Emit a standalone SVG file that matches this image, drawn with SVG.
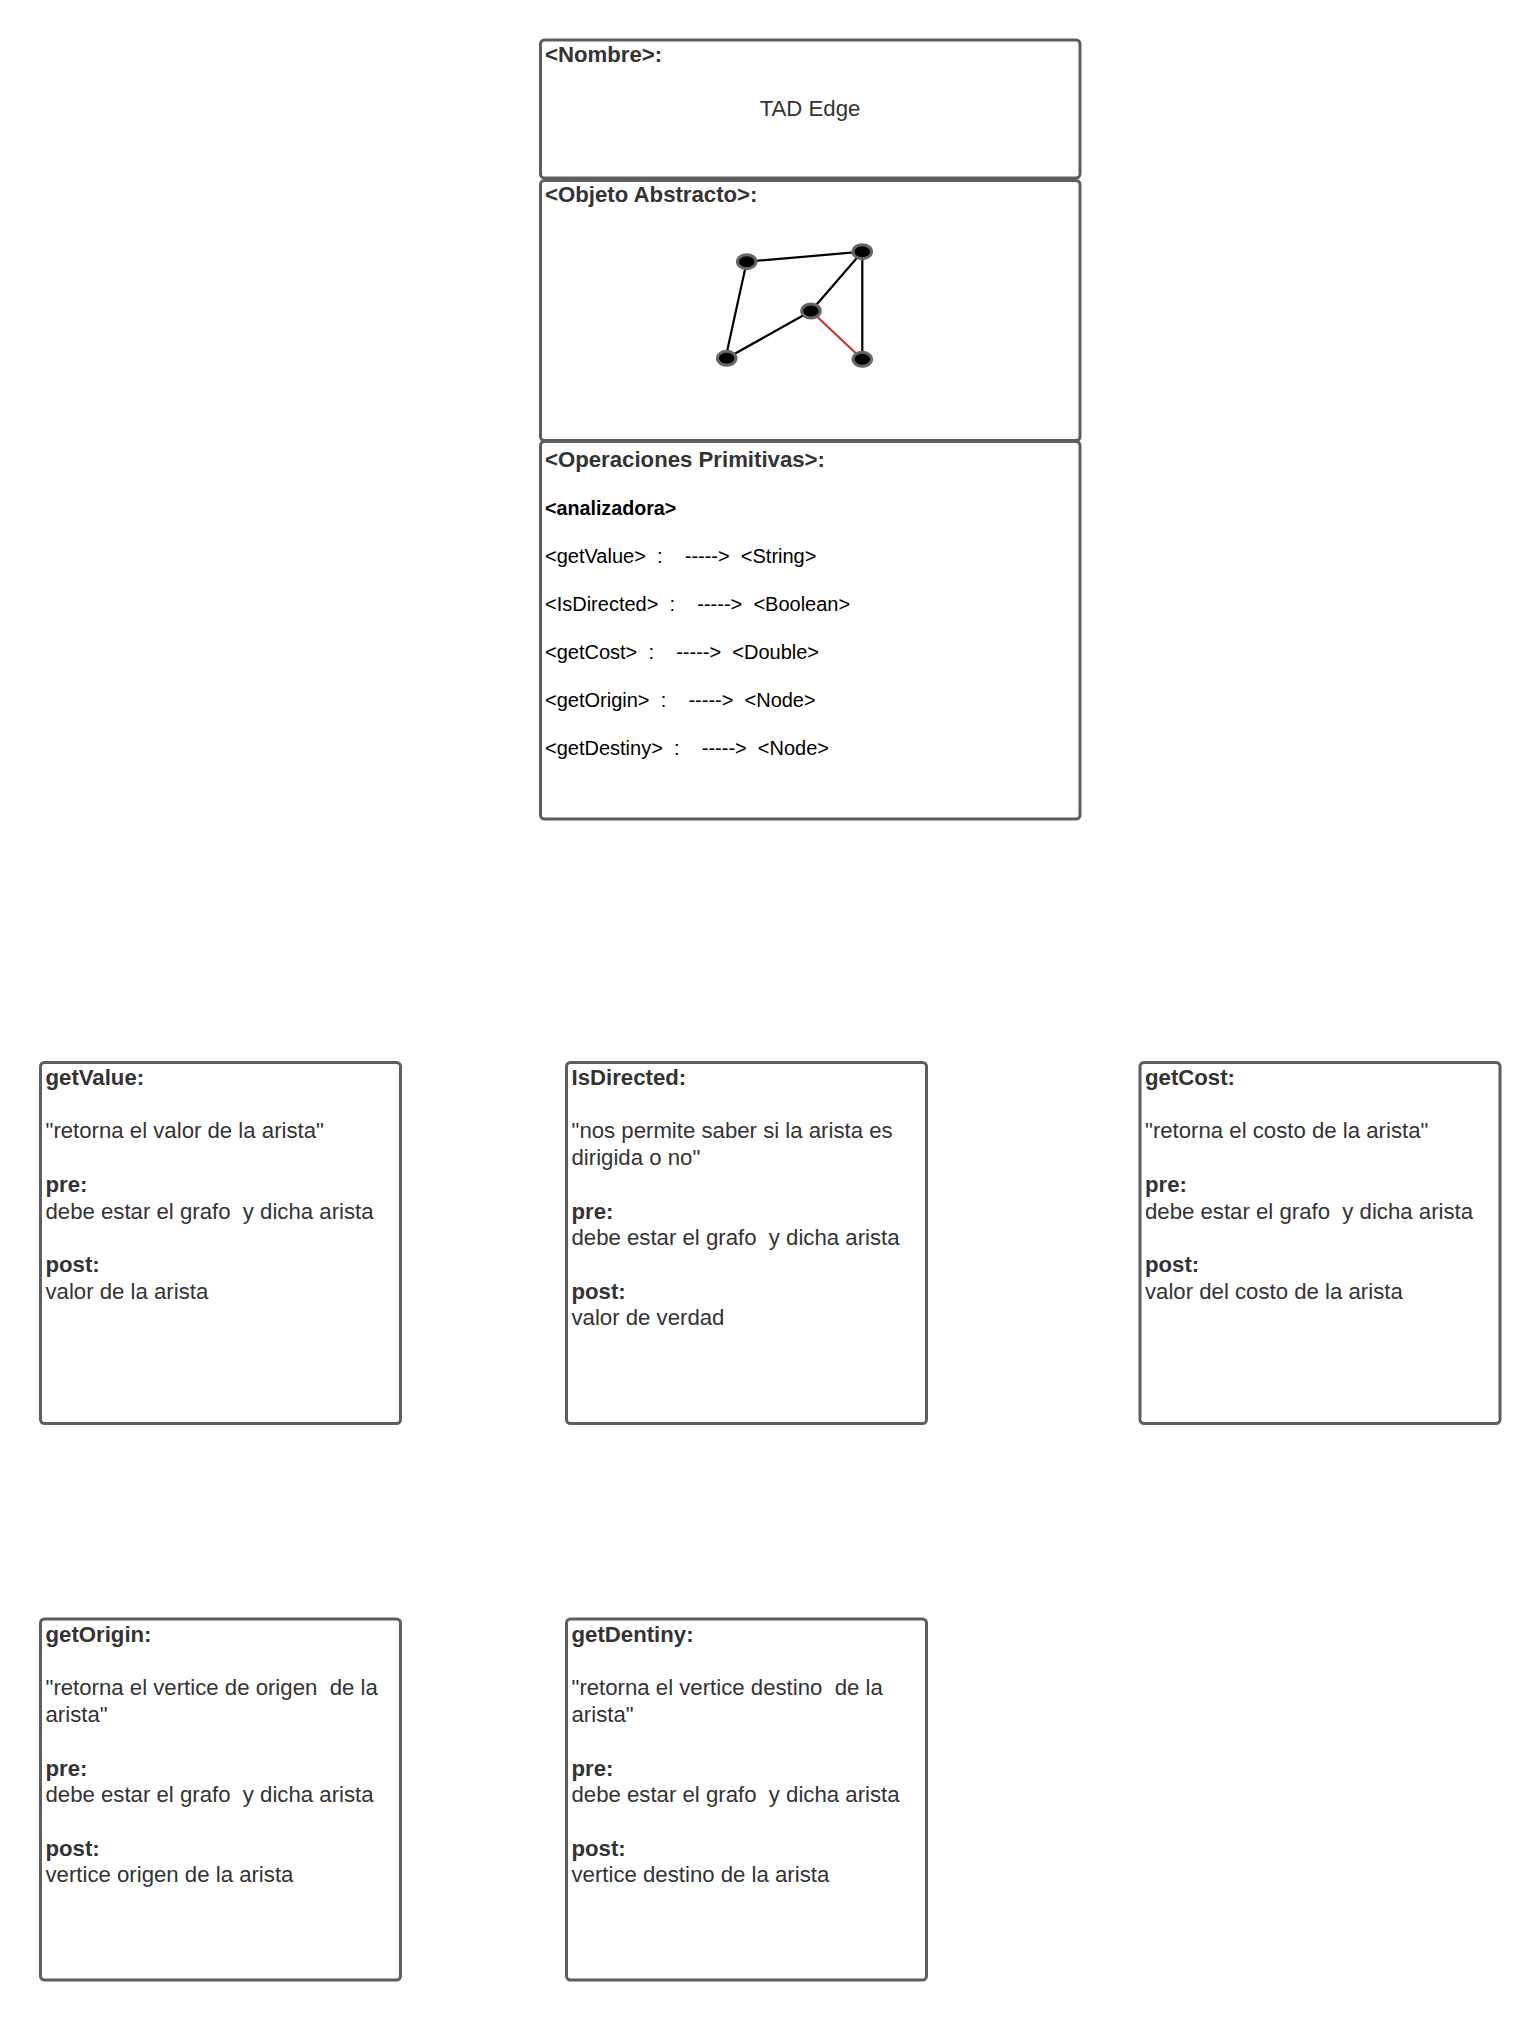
<svg xmlns="http://www.w3.org/2000/svg" width="1540" height="2023" viewBox="0 0 1540 2023">
<style>
.box{fill:#fff;stroke:#5e5e5e;stroke-width:3}
text{font-family:"Liberation Sans",Arial,sans-serif;font-size:22.2px;fill:#333;white-space:pre}
.b{font-weight:bold}
.op{font-size:20px;fill:#000}
.an{font-size:19.7px}
.edge{stroke:#000;stroke-width:2.2;fill:none}
.red{stroke:#d0313a}
.vtx{fill:#000;stroke:#666;stroke-width:3}
</style>
<rect width="1540" height="2023" fill="#fff"/>

<g id="nombre">
<rect class="box" x="540.5" y="40" width="539.5" height="138" rx="4"/>
<text class="b" x="545" y="62">&lt;Nombre&gt;:</text>
<text x="810" y="116" text-anchor="middle">TAD Edge</text>
</g>

<g id="objeto-abstracto">
<rect class="box" x="540.5" y="180.5" width="539.5" height="260" rx="4"/>
<text class="b" x="545" y="202">&lt;Objeto Abstracto&gt;:</text>
</g>

<g id="connectors">
<line class="edge" x1="746.7" y1="261.7" x2="862.3" y2="251.7"/>
<line class="edge" x1="746.7" y1="261.7" x2="724.5" y2="363"/>
<line class="edge" x1="726.7" y1="358.3" x2="811" y2="311"/>
<line class="edge" x1="811" y1="311" x2="862.3" y2="251.7"/>
<line class="edge" x1="862.3" y1="251.7" x2="862.3" y2="359.3"/>
<line class="edge red" x1="811" y1="311" x2="862.3" y2="359.3"/>
</g>

<g id="graph-nodes">
<ellipse class="vtx" cx="746.7" cy="261.7" rx="9.3" ry="7"/>
<ellipse class="vtx" cx="862.3" cy="251.7" rx="9.3" ry="7"/>
<ellipse class="vtx" cx="811" cy="311" rx="9.3" ry="7"/>
<ellipse class="vtx" cx="726.7" cy="358.3" rx="9.3" ry="7"/>
<ellipse class="vtx" cx="862.3" cy="359.3" rx="9.3" ry="7"/>
</g>

<g id="operaciones">
<rect class="box" x="540.5" y="441.5" width="539.5" height="377.5" rx="4"/>
<text class="b" x="545" y="467">&lt;Operaciones Primitivas&gt;:</text>
<text class="b op an" x="545" y="515">&lt;analizadora&gt;</text>
<text class="op" x="545" y="563">&lt;getValue&gt;  :    -----&gt;  &lt;String&gt;</text>
<text class="op" x="545" y="611">&lt;IsDirected&gt;  :    -----&gt;  &lt;Boolean&gt;</text>
<text class="op" x="545" y="659">&lt;getCost&gt;  :    -----&gt;  &lt;Double&gt;</text>
<text class="op" x="545" y="707">&lt;getOrigin&gt;  :    -----&gt;  &lt;Node&gt;</text>
<text class="op" x="545" y="755">&lt;getDestiny&gt;  :    -----&gt;  &lt;Node&gt;</text>
</g>

<g id="getValue">
<rect class="box" x="40.5" y="1062.5" width="360" height="361" rx="4"/>
<text class="b" x="45.5" y="1085">getValue:</text>
<text x="45.5" y="1138.4">"retorna el valor de la arista"</text>
<text class="b" x="45.5" y="1191.8">pre:</text>
<text x="45.5" y="1218.5">debe estar el grafo  y dicha arista</text>
<text class="b" x="45.5" y="1271.9">post:</text>
<text x="45.5" y="1298.6">valor de la arista</text>
</g>

<g id="isDirected">
<rect class="box" x="566.5" y="1062.5" width="360" height="361" rx="4"/>
<text class="b" x="571.5" y="1085">IsDirected:</text>
<text x="571.5" y="1138.4">"nos permite saber si la arista es</text>
<text x="571.5" y="1165.1">dirigida o no"</text>
<text class="b" x="571.5" y="1218.5">pre:</text>
<text x="571.5" y="1245.2">debe estar el grafo  y dicha arista</text>
<text class="b" x="571.5" y="1298.6">post:</text>
<text x="571.5" y="1325.3">valor de verdad</text>
</g>

<g id="getCost">
<rect class="box" x="1140" y="1062.5" width="360" height="361" rx="4"/>
<text class="b" x="1145" y="1085">getCost:</text>
<text x="1145" y="1138.4">"retorna el costo de la arista"</text>
<text class="b" x="1145" y="1191.8">pre:</text>
<text x="1145" y="1218.5">debe estar el grafo  y dicha arista</text>
<text class="b" x="1145" y="1271.9">post:</text>
<text x="1145" y="1298.6">valor del costo de la arista</text>
</g>

<g id="getOrigin">
<rect class="box" x="40.5" y="1619" width="360" height="361" rx="4"/>
<text class="b" x="45.5" y="1642">getOrigin:</text>
<text x="45.5" y="1695.4">"retorna el vertice de origen  de la</text>
<text x="45.5" y="1722.1">arista"</text>
<text class="b" x="45.5" y="1775.5">pre:</text>
<text x="45.5" y="1802.2">debe estar el grafo  y dicha arista</text>
<text class="b" x="45.5" y="1855.6">post:</text>
<text x="45.5" y="1882.3">vertice origen de la arista</text>
</g>

<g id="getDentiny">
<rect class="box" x="566.5" y="1619" width="360" height="361" rx="4"/>
<text class="b" x="571.5" y="1642">getDentiny:</text>
<text x="571.5" y="1695.4">"retorna el vertice destino  de la</text>
<text x="571.5" y="1722.1">arista"</text>
<text class="b" x="571.5" y="1775.5">pre:</text>
<text x="571.5" y="1802.2">debe estar el grafo  y dicha arista</text>
<text class="b" x="571.5" y="1855.6">post:</text>
<text x="571.5" y="1882.3">vertice destino de la arista</text>
</g>
</svg>
